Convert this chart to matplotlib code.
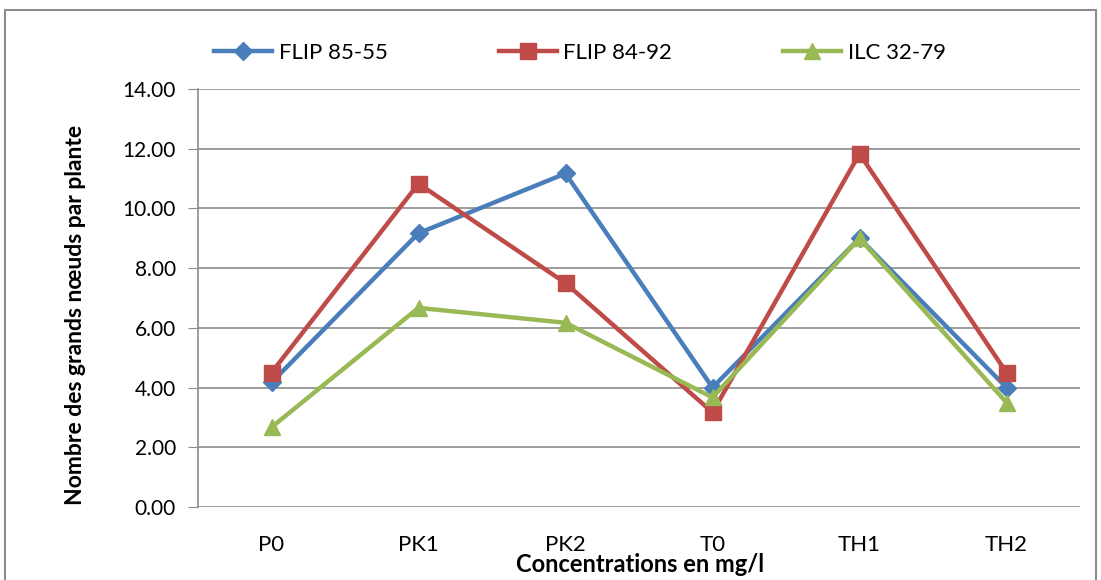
import matplotlib.pyplot as plt
from matplotlib.patches import Rectangle

# categories and series
categories = ['P0', 'PK1', 'PK2', 'T0', 'TH1', 'TH2']
flip_85_55 = [4.17, 9.17, 11.17, 4.0, 9.0, 4.0]
flip_84_92 = [4.5, 10.83, 7.5, 3.17, 11.83, 4.5]
ilc_32_79 = [2.67, 6.67, 6.17, 3.67, 9.0, 3.5]
yticks = [0, 2, 4, 6, 8, 10, 12, 14]

plt.rcParams['font.family'] = ['Lato', 'DejaVu Sans']

fig = plt.figure(figsize=(11.01, 5.8), dpi=100)
ax = fig.add_axes([198 / 1101, 1 - 507 / 580, 882 / 1101, 418 / 580])

# outer frame
fig.patches.append(Rectangle((5 / 1101, -0.05), 1091 / 1101, 1 - 10 / 580 + 0.05,
                             transform=fig.transFigure, fill=False,
                             edgecolor='#8c8c8c', linewidth=1.5))

x = range(len(categories))
ax.plot(x, flip_85_55, color='#4a7ebb', lw=3.2, marker='D', ms=9, label='FLIP 85-55')
ax.plot(x, flip_84_92, color='#be4b48', lw=3.2, marker='s', ms=11, label='FLIP 84-92')
ax.plot(x, ilc_32_79, color='#98b954', lw=3.2, marker='^', ms=12, label='ILC 32-79')

ax.set_xlim(-0.5, 5.5)
ax.set_ylim(0, 14)
ax.set_yticks(yticks)
ax.set_yticklabels(['%.2f' % v for v in yticks], fontsize=15)
ax.set_xticks(list(x))
ax.set_xticklabels(categories, fontsize=16)
ax.tick_params(axis='x', length=0, pad=20)
ax.tick_params(axis='y', length=7, color='#8c8c8c', pad=9)

ax.grid(axis='y', color='#8c8c8c', lw=1.2)
ax.set_axisbelow(True)
for s in ['top', 'right', 'bottom']:
    ax.spines[s].set_visible(False)
ax.spines['left'].set_color('#8c8c8c')
ax.spines['left'].set_linewidth(1.2)

fig.text(75 / 1101, 1 - 315 / 580, 'Nombre des grands nœuds par plante', fontsize=16.5,
         fontweight='bold', rotation=90, ha='center', va='center')
fig.text(640 / 1101, 1 - 565 / 580, 'Concentrations en mg/l', fontsize=17,
         fontweight='bold', ha='center', va='center')

fig.legend(loc='center', bbox_to_anchor=(580 / 1101, 1 - 53 / 580), ncol=3,
           frameon=False, fontsize=16, columnspacing=5, handlelength=2.6,
           handletextpad=0.3)

fig.savefig('out.png', dpi=100)
